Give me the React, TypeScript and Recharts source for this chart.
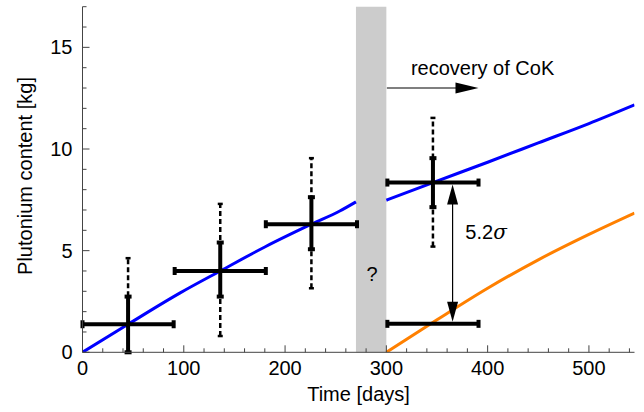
import React from "react";
import {
  ComposedChart,
  Line,
  Scatter,
  XAxis,
  YAxis,
  ErrorBar,
  ReferenceArea,
  ReferenceLine,
  ReferenceDot,
} from "recharts";

const FONT = '"Liberation Sans", Arial, Helvetica, sans-serif';
const AXIS = "#444";

// model curves (days, kg)
const blueEarlyDays = [0, 45, 96, 136, 180, 226, 254, 270];
const blueEarlyKg = [0, 1.38, 2.91, 4.0, 5.18, 6.3, 6.95, 7.4];
const blueLateDays = [300, 346, 400, 450, 500, 545];
const blueLateKg = [7.48, 8.35, 9.35, 10.3, 11.25, 12.17];
const orangeDays = [300, 350, 400, 450, 500, 545];
const orangeKg = [0, 1.6, 3.15, 4.55, 5.8, 6.85];

// measurements
const pointDays = [45, 136, 226, 346];
const pointKg = [1.38, 4.0, 6.3, 8.35];
const dayErr = [45, 45, 45, 45];
const innerLow = [1.38, 1.26, 1.23, 1.21];
const innerHigh = [1.36, 1.4, 1.33, 1.2];
const outerLow = [1.38, 3.2, 3.15, 3.15];
const outerHigh = [3.25, 3.3, 3.25, 3.18];

const recoveredDays = [346];
const recoveredKg = [1.4];
const recoveredErr = [45];

const gapStart = 270;
const gapEnd = 300;

const xTicks = Array.from({ length: 28 }, (_, i) => i * 20);
const yTicks = Array.from({ length: 18 }, (_, i) => i);

const blueEarly = blueEarlyDays.map((t, i) => ({ t, v: blueEarlyKg[i] }));
const blueLate = blueLateDays.map((t, i) => ({ t, v: blueLateKg[i] }));
const orange = orangeDays.map((t, i) => ({ t, v: orangeKg[i] }));
const points = pointDays.map((t, i) => ({
  t,
  v: pointKg[i],
  dx: dayErr[i],
  inner: [innerLow[i], innerHigh[i]],
  outer: [outerLow[i], outerHigh[i]],
}));
const recovered = recoveredDays.map((t, i) => ({
  t,
  v: recoveredKg[i],
  dx: recoveredErr[i],
}));

const BottomTick = ({ x, y, payload }: any) => {
  const major = payload.value % 100 === 0;
  return (
    <g>
      <line x1={x} x2={x} y1={y} y2={y - (major ? 7 : 4)} stroke={AXIS} />
      {major && (
        <text x={x} y={y + 23} textAnchor="middle" fontSize={20} fontFamily={FONT} fill="#000">
          {payload.value}
        </text>
      )}
    </g>
  );
};

const TopTick = ({ x, y, payload }: any) => {
  const major = payload.value % 100 === 0;
  return <line x1={x} x2={x} y1={y} y2={y + (major ? 7 : 4)} stroke={AXIS} />;
};

const LeftTick = ({ x, y, payload }: any) => {
  const major = payload.value % 5 === 0;
  return (
    <g>
      <line x1={x} x2={x + (major ? 7 : 4)} y1={y} y2={y} stroke={AXIS} />
      {major && (
        <text x={x - 10} y={y + 7} textAnchor="end" fontSize={20} fontFamily={FONT} fill="#000">
          {payload.value}
        </text>
      )}
    </g>
  );
};

const RightTick = ({ x, y, payload }: any) => {
  const major = payload.value % 5 === 0;
  return <line x1={x} x2={x - (major ? 7 : 4)} y1={y} y2={y} stroke={AXIS} />;
};

const head = (tx: number, ty: number, ux: number, uy: number, len: number, half: number) => {
  const bx = tx - ux * len;
  const by = ty - uy * len;
  return `${tx},${ty} ${bx - uy * half},${by + ux * half} ${bx + uy * half},${by - ux * half}`;
};

const RightArrow = (p: any) => (
  <g>
    <line x1={p.x1} y1={p.y1} x2={p.x2 - 10} y2={p.y2} stroke="#000" strokeWidth={1.2} />
    <polygon points={head(p.x2, p.y2, 1, 0, 23, 5.5)} fill="#000" />
  </g>
);

const DoubleArrow = (p: any) => (
  <g>
    <line x1={p.x1} y1={p.y1 + 10} x2={p.x2} y2={p.y2 - 10} stroke="#000" strokeWidth={1.2} />
    <polygon points={head(p.x1, p.y1, 0, -1, 20, 5.5)} fill="#000" />
    <polygon points={head(p.x2, p.y2, 0, 1, 20, 5.5)} fill="#000" />
  </g>
);

const textShape = (content: React.ReactNode, anchor: "start" | "middle" | "end") => (p: any) => (
  <text x={p.cx} y={p.cy} textAnchor={anchor} fontSize={20} fontFamily={FONT} fill="#000">
    {content}
  </text>
);

const noMark = () => <g />;

export default function App() {
  return (
    <div style={{ position: "absolute", left: 0, top: 0, background: "#fff" }}>
      <ComposedChart
        width={644}
        height={412}
        margin={{ top: 6.7, right: 9.5, bottom: 0, left: 0 }}
      >
        <XAxis
          dataKey="t"
          type="number"
          domain={[0, 545]}
          ticks={xTicks}
          interval={0}
          allowDataOverflow
          height={59.7}
          tickSize={0}
          tickMargin={0}
          tickLine={false}
          axisLine={{ stroke: AXIS }}
          tick={BottomTick}
          label={() => (
            <text x={358.5} y={401} textAnchor="middle" fontSize={20} fontFamily={FONT} fill="#000">
              Time [days]
            </text>
          )}
        />
        <XAxis
          xAxisId="top"
          orientation="top"
          dataKey="t"
          type="number"
          domain={[0, 545]}
          ticks={xTicks}
          interval={0}
          allowDataOverflow
          height={0}
          tickSize={0}
          tickMargin={0}
          tickLine={false}
          axisLine={{ stroke: AXIS }}
          tick={TopTick}
        />
        <YAxis
          type="number"
          domain={[0, 17]}
          ticks={yTicks}
          interval={0}
          allowDataOverflow
          width={82.5}
          tickSize={0}
          tickMargin={0}
          tickLine={false}
          axisLine={{ stroke: AXIS }}
          tick={LeftTick}
          label={() => (
            <text
              x={32}
              y={176}
              transform="rotate(-90 32 176)"
              textAnchor="middle"
              fontSize={20}
              fontFamily={FONT}
              fill="#000"
            >
              Plutonium content [kg]
            </text>
          )}
        />
        <YAxis
          yAxisId="right"
          orientation="right"
          type="number"
          domain={[0, 17]}
          ticks={yTicks}
          interval={0}
          allowDataOverflow
          width={0}
          tickSize={0}
          tickMargin={0}
          tickLine={false}
          axisLine={{ stroke: AXIS }}
          tick={RightTick}
        />

        <Line data={blueEarly} dataKey="v" type="monotone" stroke="#0000ff" strokeWidth={3} dot={false} isAnimationActive={false} />
        <Line data={blueLate} dataKey="v" type="monotone" stroke="#0000ff" strokeWidth={3} dot={false} isAnimationActive={false} />
        <Line data={orange} dataKey="v" type="monotone" stroke="#ff8000" strokeWidth={3} dot={false} isAnimationActive={false} />

        <ReferenceArea x1={gapStart} x2={gapEnd} y1={0} y2={17} fill="#cccccc" fillOpacity={1} stroke="none" />
        <ReferenceDot x={286} y={3.5} r={0} shape={textShape("?", "middle")} />

        <Scatter data={points} dataKey="v" shape={noMark} isAnimationActive={false}>
          <ErrorBar dataKey="outer" direction="y" width={2.5} stroke="#000" strokeWidth={2.5} strokeDasharray="5 3" isAnimationActive={false} />
          <ErrorBar dataKey="inner" direction="y" width={3.5} stroke="#000" strokeWidth={4} isAnimationActive={false} />
          <ErrorBar dataKey="dx" direction="x" width={4} stroke="#000" strokeWidth={4} isAnimationActive={false} />
        </Scatter>
        <Scatter data={recovered} dataKey="v" shape={noMark} isAnimationActive={false}>
          <ErrorBar dataKey="dx" direction="x" width={4} stroke="#000" strokeWidth={4} isAnimationActive={false} />
        </Scatter>

        <ReferenceLine segment={[{ x: 300.5, y: 13 }, { x: 391, y: 13 }]} shape={RightArrow} />
        <ReferenceDot x={395} y={13.66} r={0} shape={textShape("recovery of CoK", "middle")} />
        <ReferenceLine segment={[{ x: 365.4, y: 8.25 }, { x: 365.4, y: 1.5 }]} shape={DoubleArrow} />
        <ReferenceDot
          x={378}
          y={5.57}
          r={0}
          shape={textShape(
            <>
              5.2<tspan fontStyle="italic" fontFamily="'DejaVu Serif', serif">σ</tspan>
            </>,
            "start"
          )}
        />
      </ComposedChart>
    </div>
  );
}
